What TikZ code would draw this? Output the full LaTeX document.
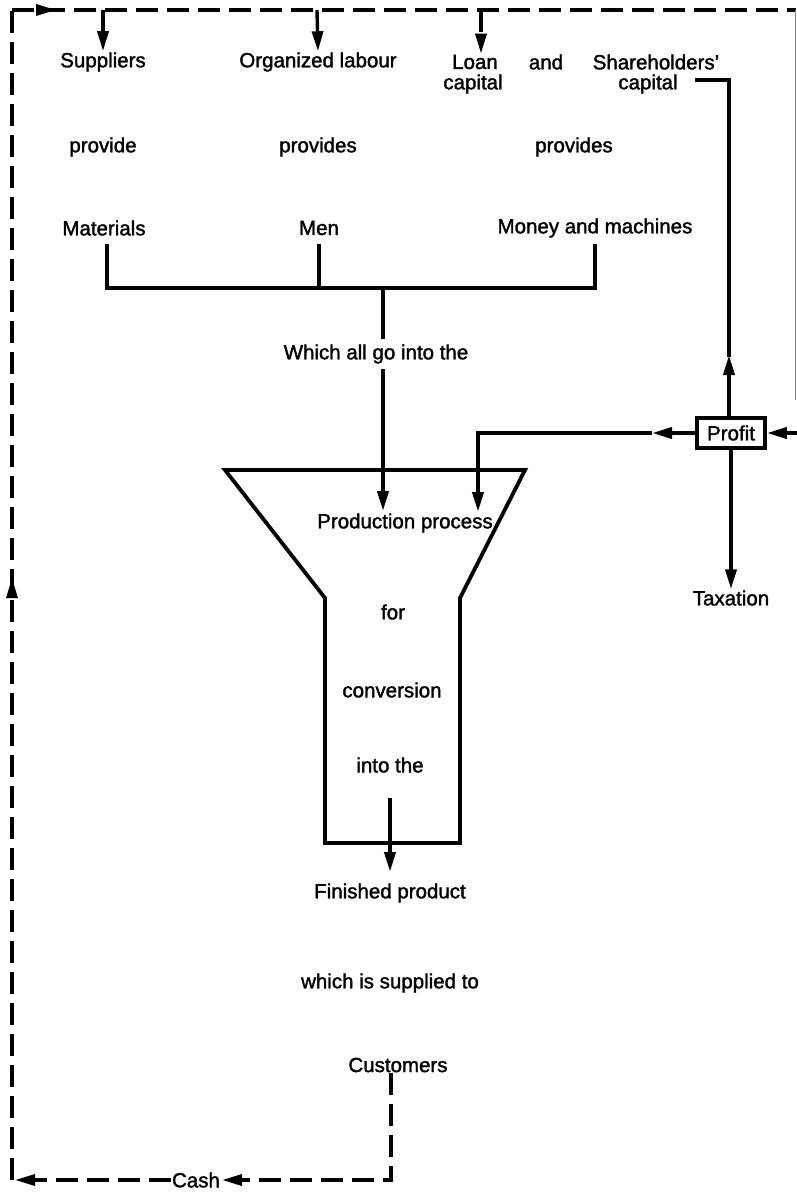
\documentclass[tikz,border=0pt]{standalone}
\usepackage{fontspec}
\setmainfont{Liberation Sans}[UprightFeatures={FakeBold=1.6}]
\usetikzlibrary{arrows.meta}
\begin{document}
\begin{tikzpicture}[x=1pt,y=-1pt,
  lbl/.style={font=\fontsize{20.5}{22}\selectfont, inner sep=1pt, align=center},
  solidline/.style={line width=3.8pt, line cap=rect},
  dashline/.style={line width=3.4pt, dash pattern=on 22pt off 9pt},
  tip/.style={-{Triangle[length=20pt,width=11pt]}},
  tipd/.style={-{Triangle[length=20pt,width=11pt]}, dash pattern=on 22pt off 9pt, line width=3.4pt}
]
\useasboundingbox (0,0) rectangle (796,1199);
\fill[white] (0,0) rectangle (796,1199);

% texts
\node[lbl] (sup) at (103,62) {Suppliers};
\node[lbl] (lab) at (318,62) {Organized labour};
\node[lbl] (loan) at (475,62) {Loan};
\node[lbl] (and) at (546,62) {and};
\node[lbl] (loancap) at (473,84) {capital};
\node[lbl] (share) at (656,62) {Shareholders'};
\node[lbl] (sharecap) at (648,84) {capital};
\node[lbl] (p1) at (103,147) {provide};
\node[lbl] (p2) at (318,147) {provides};
\node[lbl] (p3) at (574,147) {provides};
\node[lbl] (mat) at (104,228) {Materials};
\node[lbl] (men) at (319,228) {Men};
\node[lbl] (mon) at (595,228) {Money and machines};
\node[lbl] (prod) at (405,523) {Production process};
\node[lbl] (for) at (393,612) {for};
\node[lbl] (conv) at (392,690) {conversion};
\node[lbl] (into) at (390,765) {into the};
\node[lbl] (fin) at (390,893) {Finished product};
\node[lbl] (supp) at (390,983) {which is supplied to};
\node[lbl] (cust) at (398,1065) {Customers};
\node[lbl] (cash) at (196,1180) {Cash};
\node[lbl] (tax) at (731,598) {Taxation};
\node[lbl, draw, line width=3.8pt, minimum width=68pt, minimum height=30pt, inner sep=2pt] (profit) at (731,433) {Profit};

% coordinates
\coordinate (tl) at (12,10);
\coordinate (tr) at (796,10);
\coordinate (bl) at (12,1180);
\coordinate (br) at (391,1180);
\coordinate (dsup) at (103,10);
\coordinate (dlab) at (317,10);
\coordinate (dloan) at (481,10);
\coordinate (b1) at (107,246);
\coordinate (b2) at (319,246);
\coordinate (b3) at (595,246);
\coordinate (b1d) at (107,288);
\coordinate (b2d) at (319,288);
\coordinate (b3d) at (595,288);
\coordinate (stem) at (383,288);
\coordinate (stemend) at (383,511);
\coordinate (pleft) at (478,433);
\coordinate (pdown) at (478,512);
\coordinate (sc1) at (697,80);
\coordinate (sc2) at (729,80);
\coordinate (upmid) at (729,355);
\coordinate (pmid) at (652,433);
\coordinate (redge) at (796,433);
\coordinate (rtop) at (795,10);
\coordinate (rbot) at (795,400);
\coordinate (fa) at (390,800);
\coordinate (fb) at (390,872);
\coordinate (lmid) at (12,578);
\coordinate (tmid) at (56,10);
\coordinate (cashr) at (222,1180);
\coordinate (blend) at (15,1180);

% funnel
\draw[solidline, line join=miter, line cap=butt] (225,470) -- (525,470) -- (460,598) -- (460,843) -- (325,843) -- (325,598) -- cycle;

% dashed loop
\draw[dashline] (tl) -- (tr);
\draw[tipd] (tl) -- (tmid);
\draw[dashline] (bl) -- (tl);
\draw[tipd] (bl) -- (lmid);
\draw[tipd] (cust.south -| br) -- (br) -- (cashr);
\draw[tipd] (cash.west) -- (blend);
\draw[tipd] (dsup) -- (sup.north);
\draw[tipd] (dlab) -- (lab.north);
\draw[tipd] (dloan) -- (dloan |- loan.north);
\draw[line width=0.8pt, gray] (rtop) -- (rbot);

% bracket
\draw[solidline] (b1) -- (b1d) -- (b3d) -- (b3);
\draw[solidline] (b2) -- (b2d);
\draw[solidline, tip] (stem) -- (stemend);
\node[lbl, fill=white, inner sep=5pt] (which) at (376,354) {Which all go into the};

% profit connectors
\draw[solidline, tip] (profit.west) -- (pmid);
\draw[solidline, tip, line cap=butt] (pmid) -- (pleft) -- (pdown);
\draw[solidline, tip] (profit.north -| sc2) -- (upmid);
\draw[solidline] (upmid) -- (sc2) -- (sc1);
\draw[solidline, tip] (profit.south) -- (tax.north);
\draw[solidline, tip] (redge) -- (profit.east);
\draw[solidline, tip] (fa) -- (fb);
\end{tikzpicture}
\end{document}
